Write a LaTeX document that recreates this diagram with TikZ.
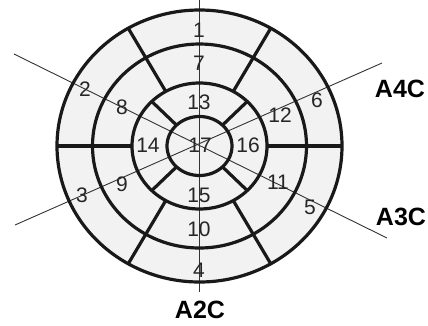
\documentclass[tikz,border=0pt]{standalone}
\usepackage{fontspec}
\setmainfont{Liberation Sans}
\begin{document}
\begin{tikzpicture}[x=1pt,y=-1pt,
  ring/.style={line width=3.2pt,black!90},
  seg/.style={line width=3.2pt,black!90},
  axisline/.style={line width=0.9pt,black!80},
  num/.style={font=\fontsize{21}{21}\selectfont,text=black!85,inner sep=0pt},
  view/.style={font=\fontsize{25}{25}\selectfont\bfseries,inner sep=0pt}]
\useasboundingbox (0,0) rectangle (428,325);
\def\cx{199.5}\def\cy{146}
\coordinate (c) at (\cx,\cy);
% fill
\fill[black!5] (c) ellipse [x radius=142.5pt, y radius=136pt];
% thin view lines
\coordinate (v1) at (199.5,0);
\coordinate (v2) at (199.5,292);
\coordinate (a4a) at (382,63);
\coordinate (a4b) at (15,225);
\coordinate (a3a) at (14,54);
\coordinate (a3b) at (387,238);
\draw[axisline] (v1) -- (v2);
\draw[axisline] (a4a) -- (a4b);
\draw[axisline] (a3a) -- (a3b);
% rings
\draw[ring] (c) ellipse [x radius=142.5pt, y radius=136pt];
\draw[ring] (c) ellipse [x radius=107pt, y radius=102pt];
\draw[ring] (c) ellipse [x radius=67.5pt, y radius=63pt];
\draw[ring] (c) ellipse [x radius=32.5pt, y radius=29.5pt];
% basal & mid segment boundaries
\foreach \a in {0,60,120,180,240,300}
  \draw[seg] ({\cx+142.5*cos(\a)},{\cy-136*sin(\a)}) -- ({\cx+67.5*cos(\a)},{\cy-63*sin(\a)});
% apical boundaries
\foreach \a in {45,135,225,315}
  \draw[seg] ({\cx+67.5*cos(\a)},{\cy-63*sin(\a)}) -- ({\cx+32.5*cos(\a)},{\cy-29.5*sin(\a)});
% numbers
\node[num] (n1) at (199,30) {1};
\node[num] (n2) at (85,89) {2};
\node[num] (n3) at (82,195) {3};
\node[num] (n4) at (199,270) {4};
\node[num] (n5) at (310,207) {5};
\node[num] (n6) at (317,100) {6};
\node[num] (n7) at (199,63) {7};
\node[num] (n8) at (122,107) {8};
\node[num] (n9) at (122,184) {9};
\node[num] (n10) at (199,229) {10};
\node[num] (n11) at (278,182) {11};
\node[num] (n12) at (280,115) {12};
\node[num] (n13) at (199,102) {13};
\node[num] (n14) at (148,145) {14};
\node[num] (n15) at (199,195) {15};
\node[num] (n16) at (248,145) {16};
\node[num] (n17) at (200,145) {17};
% view labels
\node[view] (A4C) at (400,89) {A4C};
\node[view] (A3C) at (401,217) {A3C};
\node[view] (A2C) at (200,310) {A2C};
\end{tikzpicture}
\end{document}
